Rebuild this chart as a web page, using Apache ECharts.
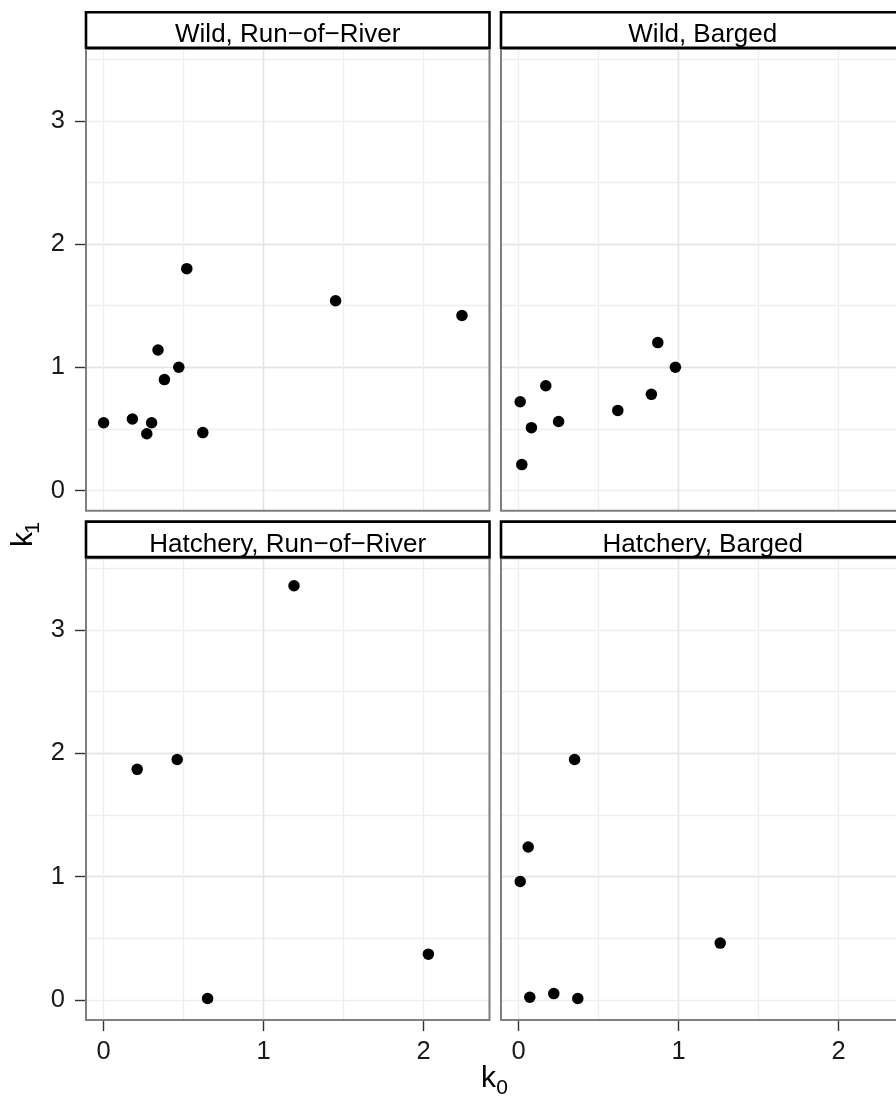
<!DOCTYPE html>
<html>
<head>
<meta charset="utf-8">
<script src="https://cdn.jsdelivr.net/npm/echarts@6/dist/echarts.min.js"></script>
<style>
  html, body { margin: 0; padding: 0; background: #ffffff; }
  #chart { width: 896px; height: 1100px; }
</style>
</head>
<body>
<div id="chart"></div>
<script>
// Facet titles, in row-major order
const panelTitles = ['Wild, Run\u2212of\u2212River', 'Wild, Barged', 'Hatchery, Run\u2212of\u2212River', 'Hatchery, Barged'];

// k0 / k1 pairs per group
const wildRiverK0 = [0.00, 0.18, 0.27, 0.30, 0.34, 0.38, 0.47, 0.52, 0.62, 1.45, 2.24];
const wildRiverK1 = [0.55, 0.58, 0.46, 0.55, 1.14, 0.90, 1.00, 1.80, 0.47, 1.54, 1.42];
const wildBargedK0 = [0.01, 0.02, 0.08, 0.17, 0.25, 0.62, 0.83, 0.87, 0.98];
const wildBargedK1 = [0.72, 0.21, 0.51, 0.85, 0.56, 0.65, 0.78, 1.20, 1.00];
const hatchRiverK0 = [0.21, 0.46, 0.65, 1.19, 2.03];
const hatchRiverK1 = [1.87, 1.95, 0.01, 3.36, 0.37];
const hatchBargedK0 = [0.01, 0.06, 0.07, 0.22, 0.35, 0.37, 1.26];
const hatchBargedK1 = [0.96, 1.24, 0.02, 0.05, 1.95, 0.01, 0.46];

// Tick labels
const k0Ticks = [0, 1, 2];
const k1Ticks = [0, 1, 2, 3];

const panelX = [wildRiverK0, wildBargedK0, hatchRiverK0, hatchBargedK0];
const panelY = [wildRiverK1, wildBargedK1, hatchRiverK1, hatchBargedK1];

// Shared scales (with padding around the data)
const X_MIN = -0.11, X_MAX = 2.412;
const Y_MIN = -0.165, Y_MAX = 3.583;

// Panel layout in pixels
const COL_LEFT = [86, 501];
const ROW_TOP = [49, 558.3];
const PANEL_W = 403.5, PANEL_H = 461.8;
const STRIP_H = 35.5, STRIP_GAP = 0.2;

const FONT = '"Liberation Sans", Arial, Helvetica, sans-serif';
const TICK_FS = 25.5;
const STRIP_FS = 26;
const GRID_MINOR = '#eeeeee';
const GRID_MAJOR = '#e4e4e4';

const grids = [], xAxes = [], yAxes = [], series = [], graphics = [];

for (let i = 0; i < 4; i++) {
  const r = Math.floor(i / 2), c = i % 2;
  const left = COL_LEFT[c], top = ROW_TOP[r];
  const bottomRow = r === 1, leftCol = c === 0;

  grids.push({ left: left, top: top, width: PANEL_W, height: PANEL_H, containLabel: false,
               outerBoundsMode: 'none',
               show: true, backgroundColor: '#ffffff', borderWidth: 0 });

  // half-unit grid lines
  xAxes.push({
    gridIndex: i, type: 'value', position: 'bottom', min: X_MIN, max: X_MAX,
    minInterval: 0.5, maxInterval: 0.5,
    axisLine: { show: false, onZero: false }, axisTick: { show: false }, axisLabel: { show: false },
    splitLine: { show: true, showMinLine: false, showMaxLine: false, lineStyle: { color: GRID_MINOR, width: 1.4 } }
  });
  // unit ticks, labels and major grid lines
  xAxes.push({
    gridIndex: i, type: 'value', position: 'bottom', min: X_MIN, max: X_MAX,
    minInterval: 1, maxInterval: 1,
    axisLine: { show: false, onZero: false },
    axisTick: { show: bottomRow, length: 11, customValues: k0Ticks, lineStyle: { color: '#333333', width: 1.4 } },
    axisLabel: { show: bottomRow, customValues: k0Ticks, margin: 19, fontSize: TICK_FS, fontFamily: FONT, color: '#1a1a1a' },
    splitLine: { show: true, showMinLine: false, showMaxLine: false, lineStyle: { color: GRID_MAJOR, width: 1.4 } }
  });
  yAxes.push({
    gridIndex: i, type: 'value', position: 'left', min: Y_MIN, max: Y_MAX,
    minInterval: 0.5, maxInterval: 0.5,
    axisLine: { show: false, onZero: false }, axisTick: { show: false }, axisLabel: { show: false },
    splitLine: { show: true, showMinLine: false, showMaxLine: false, lineStyle: { color: GRID_MINOR, width: 1.4 } }
  });
  yAxes.push({
    gridIndex: i, type: 'value', position: 'left', min: Y_MIN, max: Y_MAX,
    minInterval: 1, maxInterval: 1,
    axisLine: { show: false, onZero: false },
    axisTick: { show: leftCol, length: 11, customValues: k1Ticks, lineStyle: { color: '#333333', width: 1.4 } },
    axisLabel: { show: leftCol, customValues: k1Ticks, margin: 21, fontSize: TICK_FS, fontFamily: FONT, color: '#1a1a1a' },
    splitLine: { show: true, showMinLine: false, showMaxLine: false, lineStyle: { color: GRID_MAJOR, width: 1.4 } }
  });

  series.push({
    type: 'scatter', xAxisIndex: 2 * i, yAxisIndex: 2 * i,
    data: panelX[i].map((x, j) => [x, panelY[i][j]]),
    symbol: 'circle', symbolSize: 11.5,
    itemStyle: { color: '#000000', opacity: 1 },
    silent: true, z: 5
  });

  // panel border
  graphics.push({
    type: 'rect', z: 100,
    shape: { x: left, y: top, width: PANEL_W, height: PANEL_H },
    style: { fill: null, stroke: '#7f7f7f', lineWidth: 2 }
  });
  // facet strip
  const stripTop = top - STRIP_H - STRIP_GAP - 1;
  graphics.push({
    type: 'rect', z: 110,
    shape: { x: left, y: stripTop, width: PANEL_W, height: STRIP_H },
    style: { fill: '#ffffff', stroke: '#000000', lineWidth: 2.6 }
  });
  graphics.push({
    type: 'text', z: 120,
    x: left + PANEL_W / 2, y: stripTop + STRIP_H / 2 + 5,
    style: { text: panelTitles[i], font: STRIP_FS + 'px ' + FONT, fill: '#000000',
             align: 'center', verticalAlign: 'middle' }
  });
}

// axis titles with subscripts
graphics.push({ type: 'text', z: 120, x: 488.5, y: 1079,
  style: { text: 'k', font: '30px ' + FONT, fill: '#000', align: 'center', verticalAlign: 'middle' } });
graphics.push({ type: 'text', z: 120, x: 502, y: 1088,
  style: { text: '0', font: '21px ' + FONT, fill: '#000', align: 'center', verticalAlign: 'middle' } });
graphics.push({ type: 'text', z: 120, x: 24, y: 539.5, rotation: Math.PI / 2,
  style: { text: 'k', font: '30px ' + FONT, fill: '#000', align: 'center', verticalAlign: 'middle' } });
graphics.push({ type: 'text', z: 120, x: 33, y: 528, rotation: Math.PI / 2,
  style: { text: '1', font: '21px ' + FONT, fill: '#000', align: 'center', verticalAlign: 'middle' } });

const chart = echarts.init(document.getElementById('chart'), null, { renderer: 'canvas' });
chart.setOption({
  animation: false,
  backgroundColor: '#ffffff',
  grid: grids,
  xAxis: xAxes,
  yAxis: yAxes,
  series: series,
  graphic: { elements: graphics }
});
</script>
</body>
</html>
